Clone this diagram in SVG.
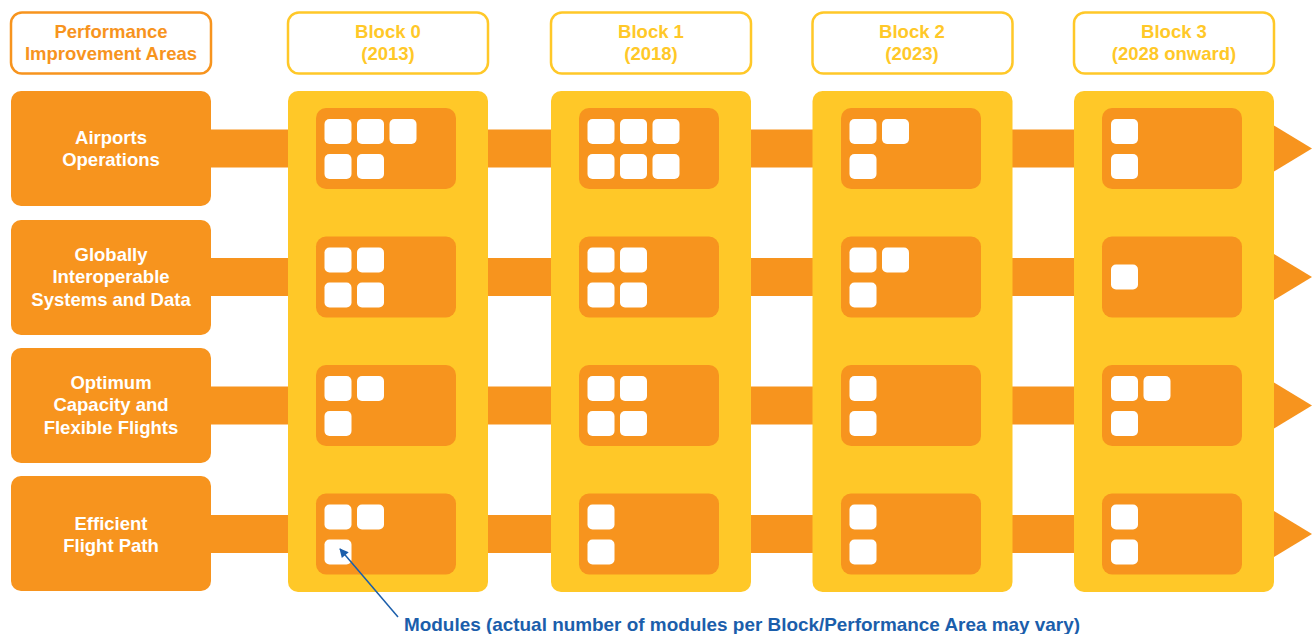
<svg xmlns="http://www.w3.org/2000/svg" width="1312" height="634" viewBox="0 0 1312 634">
<style>
.hdr{fill:#fff;stroke-width:2.5}
.ho{stroke:#F7941E}
.hy{stroke:#FFC828}
.t{font-family:"Liberation Sans",Arial,sans-serif;font-weight:bold;font-size:18.5px;text-anchor:middle}
.to{fill:#F7941E}
.ty{fill:#FFC828}
.tw{fill:#fff}
.area{fill:#F7941E}
.col{fill:#FFC828}
.inner{fill:#F7941E}
.band{fill:#F7941E}
.m{fill:#fff}
</style>
<defs>
<marker id="ah" viewBox="0 0 10 10" refX="9" refY="5" markerWidth="11" markerHeight="9" orient="auto-start-reverse" markerUnits="userSpaceOnUse">
<path d="M0,0 L10,5 L0,10 z" fill="#1B5EAB"/>
</marker>
</defs>
<rect width="1312" height="634" fill="#fff"/>
<g id="connectors">
<rect class="band" x="205" y="129.5" width="1075" height="38"/>
<polygon class="band" points="1274,125.5 1312,148.5 1274,171.5"/>
<rect class="band" x="205" y="258" width="1075" height="38"/>
<polygon class="band" points="1274,254 1312,277 1274,300"/>
<rect class="band" x="205" y="386.5" width="1075" height="38"/>
<polygon class="band" points="1274,382.5 1312,405.5 1274,428.5"/>
<rect class="band" x="205" y="515" width="1075" height="38"/>
<polygon class="band" points="1274,511 1312,534 1274,557"/>
</g>
<g id="header-areas">
<rect class="hdr ho" x="11" y="12.5" width="200" height="61" rx="11"/>
<text class="t to" x="111" y="37.5">Performance</text>
<text class="t to" x="111" y="60">Improvement Areas</text>
</g>
<g id="header-block0">
<rect class="hdr hy" x="288" y="12.5" width="200" height="61" rx="11"/>
<text class="t ty" x="388" y="37.5">Block 0</text>
<text class="t ty" x="388" y="60">(2013)</text>
</g>
<g id="header-block1">
<rect class="hdr hy" x="551" y="12.5" width="200" height="61" rx="11"/>
<text class="t ty" x="651" y="37.5">Block 1</text>
<text class="t ty" x="651" y="60">(2018)</text>
</g>
<g id="header-block2">
<rect class="hdr hy" x="812.5" y="12.5" width="200" height="61" rx="11"/>
<text class="t ty" x="912" y="37.5">Block 2</text>
<text class="t ty" x="912" y="60">(2023)</text>
</g>
<g id="header-block3">
<rect class="hdr hy" x="1074" y="12.5" width="200" height="61" rx="11"/>
<text class="t ty" x="1174" y="37.5">Block 3</text>
<text class="t ty" x="1174" y="60">(2028 onward)</text>
</g>
<g id="area-airports">
<rect class="area" x="11" y="91" width="200" height="115" rx="10"/>
<text class="t tw" x="111" y="143.5">Airports</text>
<text class="t tw" x="111" y="166">Operations</text>
</g>
<g id="area-globally">
<rect class="area" x="11" y="220" width="200" height="115" rx="10"/>
<text class="t tw" x="111" y="260.5">Globally</text>
<text class="t tw" x="111" y="283">Interoperable</text>
<text class="t tw" x="111" y="305.5">Systems and Data</text>
</g>
<g id="area-optimum">
<rect class="area" x="11" y="348" width="200" height="115" rx="10"/>
<text class="t tw" x="111" y="388.5">Optimum</text>
<text class="t tw" x="111" y="411">Capacity and</text>
<text class="t tw" x="111" y="433.5">Flexible Flights</text>
</g>
<g id="area-efficient">
<rect class="area" x="11" y="476" width="200" height="115" rx="10"/>
<text class="t tw" x="111" y="529.5">Efficient</text>
<text class="t tw" x="111" y="552">Flight Path</text>
</g>
<g id="block0">
<rect class="col" x="288" y="91" width="200" height="501" rx="10"/>
<rect class="inner" x="316" y="108" width="140" height="81" rx="10"/>
<rect class="m" x="324.5" y="119" width="27" height="25" rx="5"/>
<rect class="m" x="357" y="119" width="27" height="25" rx="5"/>
<rect class="m" x="389.5" y="119" width="27" height="25" rx="5"/>
<rect class="m" x="324.5" y="154" width="27" height="25" rx="5"/>
<rect class="m" x="357" y="154" width="27" height="25" rx="5"/>
<rect class="inner" x="316" y="236.5" width="140" height="81" rx="10"/>
<rect class="m" x="324.5" y="247.5" width="27" height="25" rx="5"/>
<rect class="m" x="357" y="247.5" width="27" height="25" rx="5"/>
<rect class="m" x="324.5" y="282.5" width="27" height="25" rx="5"/>
<rect class="m" x="357" y="282.5" width="27" height="25" rx="5"/>
<rect class="inner" x="316" y="365" width="140" height="81" rx="10"/>
<rect class="m" x="324.5" y="376" width="27" height="25" rx="5"/>
<rect class="m" x="357" y="376" width="27" height="25" rx="5"/>
<rect class="m" x="324.5" y="411" width="27" height="25" rx="5"/>
<rect class="inner" x="316" y="493.5" width="140" height="81" rx="10"/>
<rect class="m" x="324.5" y="504.5" width="27" height="25" rx="5"/>
<rect class="m" x="357" y="504.5" width="27" height="25" rx="5"/>
<rect class="m" x="324.5" y="539.5" width="27" height="25" rx="5"/>
</g>
<g id="block1">
<rect class="col" x="551" y="91" width="200" height="501" rx="10"/>
<rect class="inner" x="579" y="108" width="140" height="81" rx="10"/>
<rect class="m" x="587.5" y="119" width="27" height="25" rx="5"/>
<rect class="m" x="620" y="119" width="27" height="25" rx="5"/>
<rect class="m" x="652.5" y="119" width="27" height="25" rx="5"/>
<rect class="m" x="587.5" y="154" width="27" height="25" rx="5"/>
<rect class="m" x="620" y="154" width="27" height="25" rx="5"/>
<rect class="m" x="652.5" y="154" width="27" height="25" rx="5"/>
<rect class="inner" x="579" y="236.5" width="140" height="81" rx="10"/>
<rect class="m" x="587.5" y="247.5" width="27" height="25" rx="5"/>
<rect class="m" x="620" y="247.5" width="27" height="25" rx="5"/>
<rect class="m" x="587.5" y="282.5" width="27" height="25" rx="5"/>
<rect class="m" x="620" y="282.5" width="27" height="25" rx="5"/>
<rect class="inner" x="579" y="365" width="140" height="81" rx="10"/>
<rect class="m" x="587.5" y="376" width="27" height="25" rx="5"/>
<rect class="m" x="620" y="376" width="27" height="25" rx="5"/>
<rect class="m" x="587.5" y="411" width="27" height="25" rx="5"/>
<rect class="m" x="620" y="411" width="27" height="25" rx="5"/>
<rect class="inner" x="579" y="493.5" width="140" height="81" rx="10"/>
<rect class="m" x="587.5" y="504.5" width="27" height="25" rx="5"/>
<rect class="m" x="587.5" y="539.5" width="27" height="25" rx="5"/>
</g>
<g id="block2">
<rect class="col" x="812.5" y="91" width="200" height="501" rx="10"/>
<rect class="inner" x="841" y="108" width="140" height="81" rx="10"/>
<rect class="m" x="849.5" y="119" width="27" height="25" rx="5"/>
<rect class="m" x="882" y="119" width="27" height="25" rx="5"/>
<rect class="m" x="849.5" y="154" width="27" height="25" rx="5"/>
<rect class="inner" x="841" y="236.5" width="140" height="81" rx="10"/>
<rect class="m" x="849.5" y="247.5" width="27" height="25" rx="5"/>
<rect class="m" x="882" y="247.5" width="27" height="25" rx="5"/>
<rect class="m" x="849.5" y="282.5" width="27" height="25" rx="5"/>
<rect class="inner" x="841" y="365" width="140" height="81" rx="10"/>
<rect class="m" x="849.5" y="376" width="27" height="25" rx="5"/>
<rect class="m" x="849.5" y="411" width="27" height="25" rx="5"/>
<rect class="inner" x="841" y="493.5" width="140" height="81" rx="10"/>
<rect class="m" x="849.5" y="504.5" width="27" height="25" rx="5"/>
<rect class="m" x="849.5" y="539.5" width="27" height="25" rx="5"/>
</g>
<g id="block3">
<rect class="col" x="1074" y="91" width="200" height="501" rx="10"/>
<rect class="inner" x="1102" y="108" width="140" height="81" rx="10"/>
<rect class="m" x="1111" y="119" width="27" height="25" rx="5"/>
<rect class="m" x="1111" y="154" width="27" height="25" rx="5"/>
<rect class="inner" x="1102" y="236.5" width="140" height="81" rx="10"/>
<rect class="m" x="1111" y="264.5" width="27" height="25" rx="5"/>
<rect class="inner" x="1102" y="365" width="140" height="81" rx="10"/>
<rect class="m" x="1111" y="376" width="27" height="25" rx="5"/>
<rect class="m" x="1143.5" y="376" width="27" height="25" rx="5"/>
<rect class="m" x="1111" y="411" width="27" height="25" rx="5"/>
<rect class="inner" x="1102" y="493.5" width="140" height="81" rx="10"/>
<rect class="m" x="1111" y="504.5" width="27" height="25" rx="5"/>
<rect class="m" x="1111" y="539.5" width="27" height="25" rx="5"/>
</g>
<g id="modules-note">
<line x1="398" y1="617" x2="340" y2="549" stroke="#1B5EAB" stroke-width="1.5" marker-end="url(#ah)"/>
<text x="742" y="631" font-family="Liberation Sans, Arial, sans-serif" font-weight="bold" font-size="18.5" fill="#1B5EAB" text-anchor="middle" textLength="676" lengthAdjust="spacingAndGlyphs">Modules (actual number of modules per Block/Performance Area may vary)</text>
</g>
</svg>
